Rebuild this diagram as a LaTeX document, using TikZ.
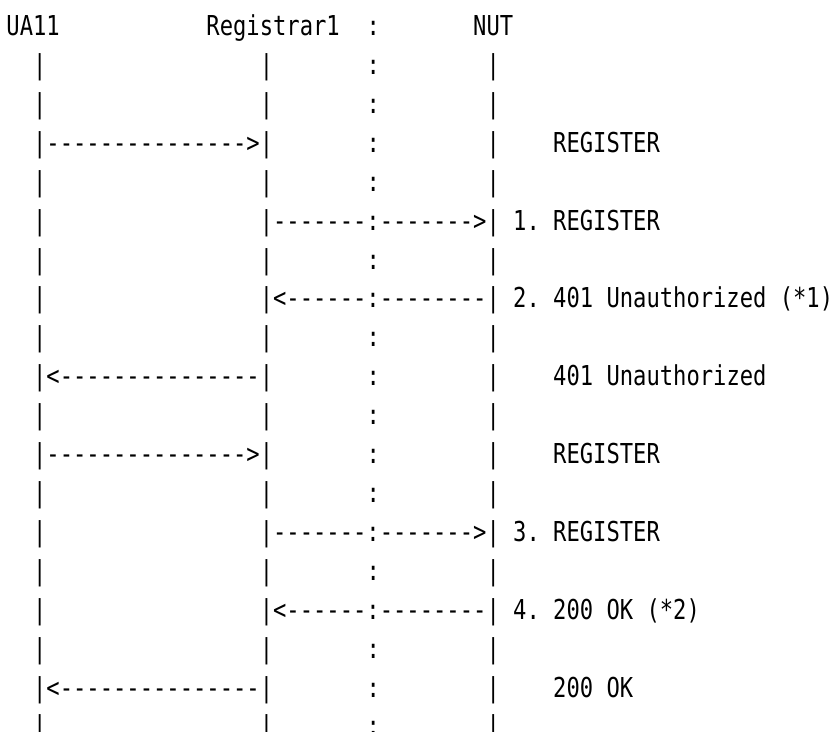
\documentclass[tikz,border=0pt]{standalone}
\usepackage{fontspec}
\setmonofont[FakeStretch=0.808]{DejaVu Sans Mono}

\begin{document}
\begin{tikzpicture}[x=13.33pt,y=-38.9pt,
    txt/.style={anchor=base west, inner sep=0pt, font=\ttfamily\fontsize{27.4}{38.9}\selectfont}]
    \useasboundingbox (-0.47,-0.913) rectangle (62,17.88);

    % header
    \node[txt] (ua) at (0,0) {UA11};
    \node[txt] (reg) at (15,0) {Registrar1};
    \node[txt] (sep) at (27,0) {:};
    \node[txt] (nut) at (35,0) {NUT};

    % lifelines
    \foreach \i in {1,...,18} {
      \node[txt] (ua-\i) at (2,\i) {|};
      \node[txt] (reg-\i) at (19,\i) {|};
      \node[txt] (nut-\i) at (36,\i) {|};
    }
    \foreach \i in {1,2,3,4,6,8,9,10,11,12,14,16,17,18}
      \node[txt] (sep-\i) at (27,\i) {:};

    % first REGISTER
    \node[txt] (m1) at (3,3) {--------------->};
    \node[txt] (m1-lbl) at (41,3) {REGISTER};
    \node[txt] (m2) at (20,5) {-------:------->};
    \node[txt] (m2-lbl) at (38,5) {1. REGISTER};
    \node[txt] (m3) at (20,7) {<------:--------};
    \node[txt] (m3-lbl) at (38,7) {2. 401 Unauthorized (*1)};
    \node[txt] (m4) at (3,9) {<---------------};
    \node[txt] (m4-lbl) at (41,9) {401 Unauthorized};

    % second REGISTER
    \node[txt] (m5) at (3,11) {--------------->};
    \node[txt] (m5-lbl) at (41,11) {REGISTER};
    \node[txt] (m6) at (20,13) {-------:------->};
    \node[txt] (m6-lbl) at (38,13) {3. REGISTER};
    \node[txt] (m7) at (20,15) {<------:--------};
    \node[txt] (m7-lbl) at (38,15) {4. 200 OK (*2)};
    \node[txt] (m8) at (3,17) {<---------------};
    \node[txt] (m8-lbl) at (41,17) {200 OK};
\end{tikzpicture}
\end{document}
